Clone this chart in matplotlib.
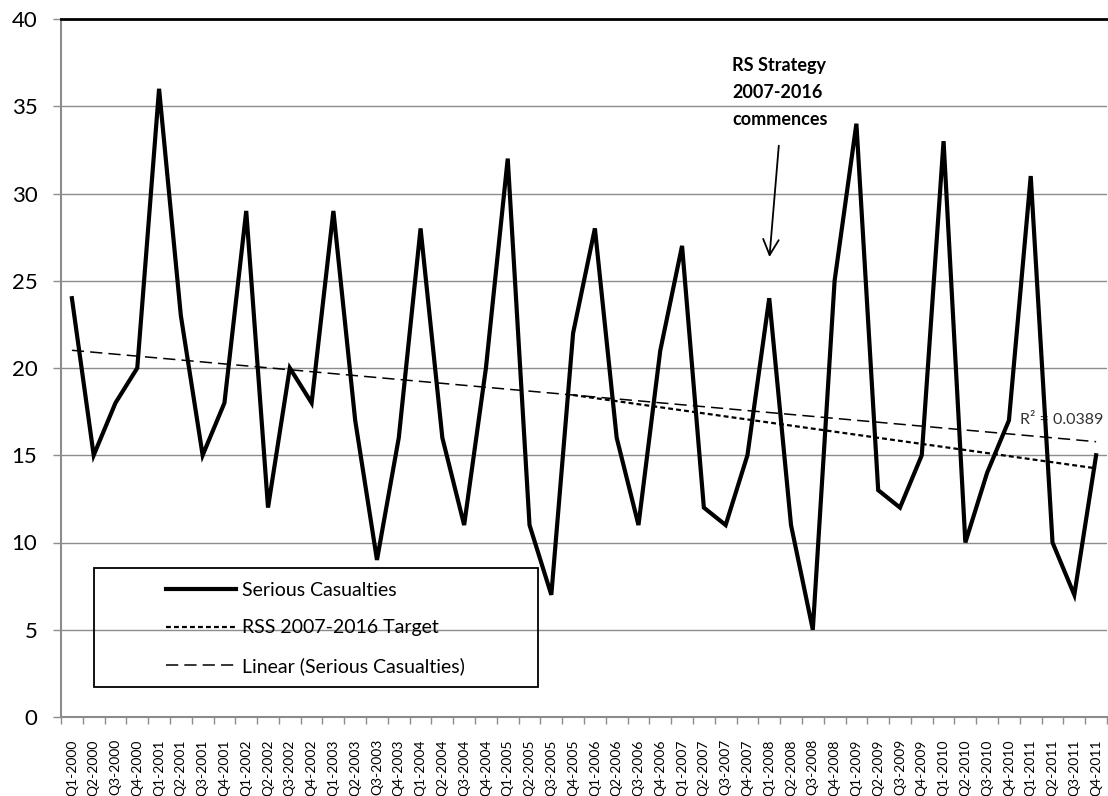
import numpy as np
import matplotlib
matplotlib.use("Agg")
import matplotlib.pyplot as plt
from matplotlib.patches import Rectangle

plt.rcParams['font.family'] = ['Lato', 'DejaVu Sans']

# quarterly serious casualties 2000-2011
quarters = [f"Q{q}-{y}" for y in range(2000, 2012) for q in range(1, 5)]
casualties = [24, 15, 18, 20, 36, 23, 15, 18, 29, 12, 20, 18,
              29, 17, 9, 16, 28, 16, 11, 20, 32, 11, 7, 22,
              28, 16, 11, 21, 27, 12, 11, 15, 24, 11, 5, 25,
              34, 13, 12, 15, 33, 10, 14, 17, 31, 10, 7, 15]

# RSS 2007-2016 target line (start / end quarter and value)
target_quarters = ["Q4-2005", "Q4-2011"]
target_values = [18.45, 14.25]

r_squared_label = "R² = 0.0389"
strategy_label = "RS Strategy\n2007-2016\ncommences"
strategy_quarter = "Q1-2008"

x = np.arange(len(quarters))
y = np.array(casualties, dtype=float)

# linear trend through the casualty series
slope, intercept = np.polyfit(x, y, 1)
trend = slope * x + intercept

tx = [quarters.index(q) for q in target_quarters]

fig = plt.figure(figsize=(11.08, 7.96), dpi=100)
ax = fig.add_axes([61 / 1108, 79 / 796, 1046 / 1108, 698 / 796])

grid_col = '#8c8c8c'
ax.set_axisbelow(True)
ax.grid(axis='y', color=grid_col, linewidth=1.0)

ln_main, = ax.plot(x, y, color='black', linewidth=3.0, solid_joinstyle='miter',
                   label='Serious Casualties', zorder=4)
ln_target, = ax.plot(tx, target_values, color='black', linewidth=1.6,
                     dashes=(2.2, 1.4), label='RSS 2007-2016 Target', zorder=3)
ln_trend, = ax.plot(x, trend, color='black', linewidth=1.1,
                    dashes=(8, 4), label='Linear (Serious Casualties)', zorder=3)

ax.set_xlim(-0.5, len(quarters) - 0.5)
ax.set_ylim(0, 40)
ax.set_yticks(range(0, 41, 5))
ax.tick_params(axis='y', labelsize=16, length=6, width=1.0, color=grid_col,
               pad=11, direction='out')

# category ticks sit between quarters, labels at the centres
ax.set_xticks(np.arange(len(quarters) + 1) - 0.5)
ax.set_xticklabels([])
ax.set_xticks(x, minor=True)
ax.set_xticklabels(quarters, minor=True, rotation=90, fontsize=10)
ax.tick_params(axis='x', which='major', length=5, width=1.0, color=grid_col)
ax.tick_params(axis='x', which='minor', length=0, pad=16)

for s in ['left', 'bottom']:
    ax.spines[s].set_color(grid_col)
    ax.spines[s].set_linewidth(1.5)
ax.spines['right'].set_visible(False)
ax.spines['top'].set_color('black')
ax.spines['top'].set_linewidth(2.0)

ax.text(47.35, 17.0, r_squared_label, ha='right', va='center', fontsize=11.5,
        color='#333333')

sx = quarters.index(strategy_quarter)
ax.text(sx - 1.7, 37.8, strategy_label, ha='left', va='top', fontsize=13,
        fontweight='bold', linespacing=1.7, multialignment='left')
ax.annotate('', xy=(sx, 26.2), xytext=(sx + 0.45, 32.9),
            arrowprops=dict(arrowstyle='->', color='black', lw=1.3,
                            mutation_scale=28))

# legend with an outlined box
fig.add_artist(Rectangle((94 / 1108, 1 - 687 / 796), 444 / 1108, 119 / 796,
                         transform=fig.transFigure, fill=False,
                         edgecolor='black', linewidth=1.3))
fig.legend(handles=[ln_main, ln_target, ln_trend], loc='upper left',
           bbox_to_anchor=(166 / 1108, 1 - 582 / 796), frameon=False,
           fontsize=14, handlelength=3.6, handletextpad=0.3,
           labelspacing=1.05, borderpad=0, borderaxespad=0)

fig.savefig('out.png', dpi=100)
